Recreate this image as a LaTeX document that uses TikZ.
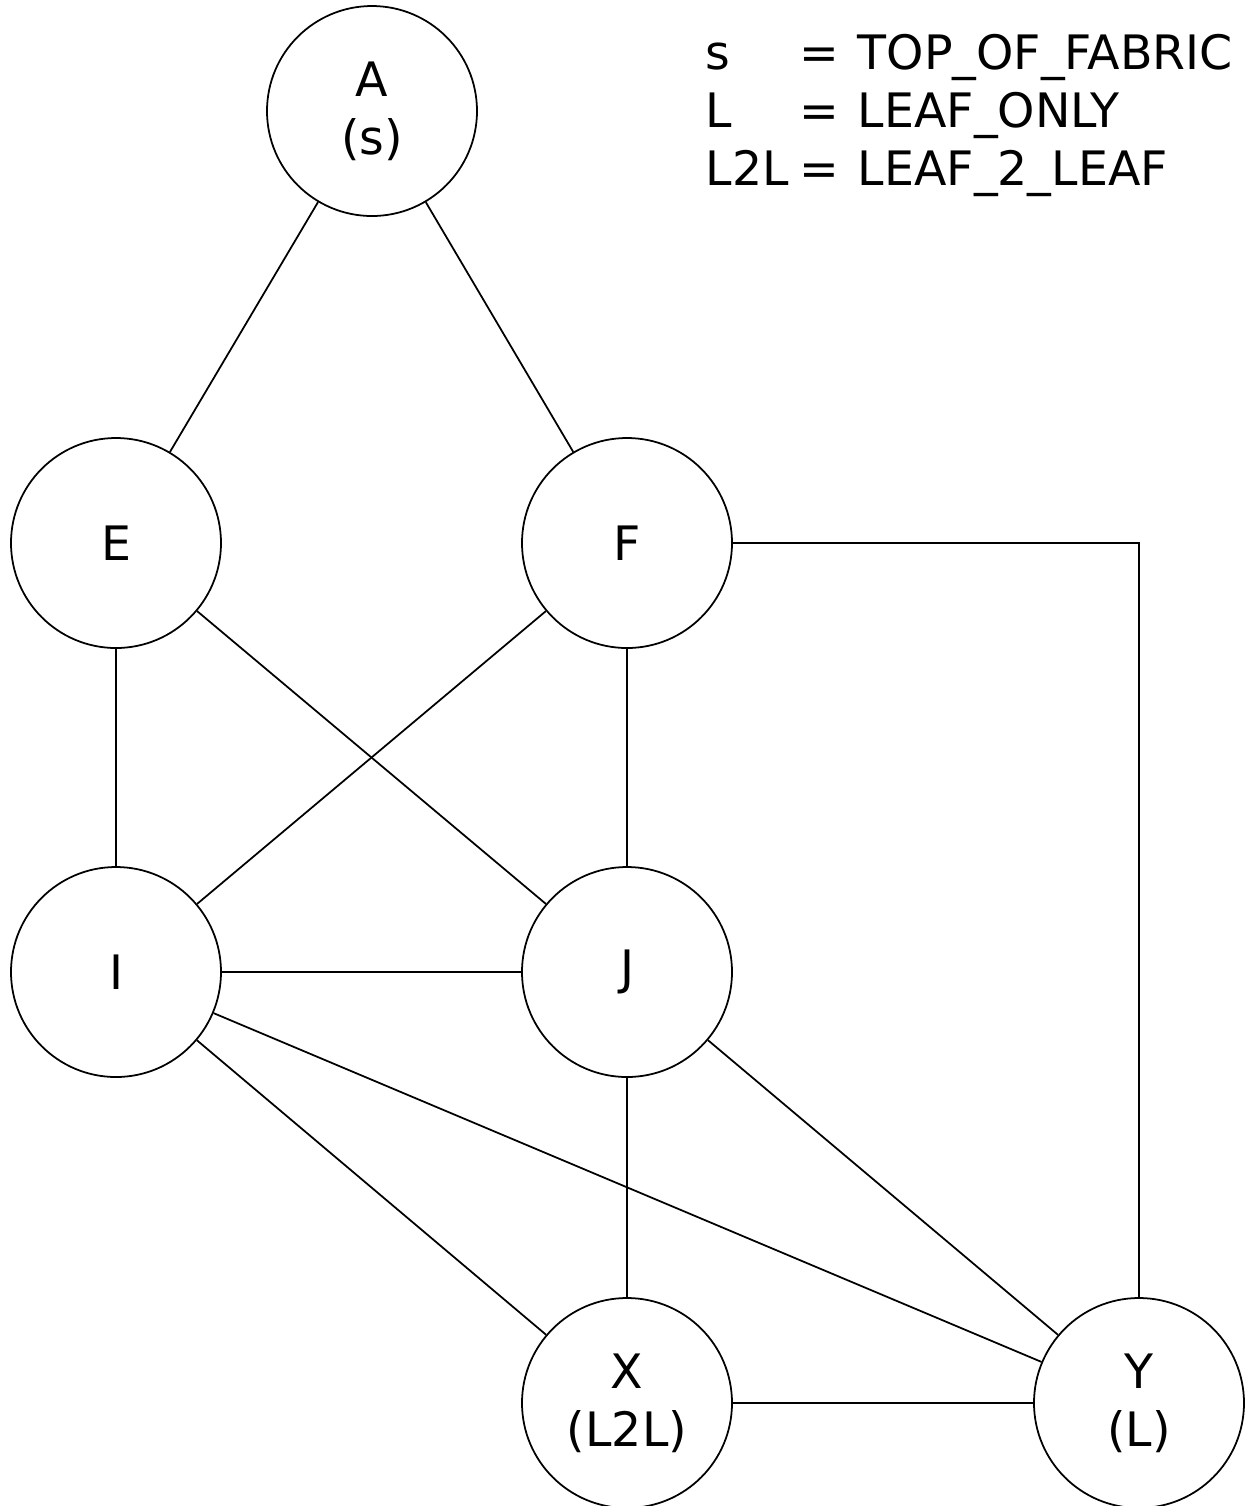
\documentclass[tikz,border=0pt]{standalone}
\usepackage{fontspec}
\setmainfont{DejaVu Sans}
\tikzset{
	fabnode/.style={draw, circle, minimum size=2.1cm, inner sep=0pt, align=center, font=\fontsize{13.5}{16.5}\selectfont},
	legtext/.style={anchor=base west, inner sep=0pt, font=\fontsize{13.5}{16.5}\selectfont}
}
\begin{document}
\begin{tikzpicture}[line width=0.5pt]

	\useasboundingbox (0,0) rectangle (12.46,-15.06);

	\node [fabnode] (A) at (3.72,-1.11) {A\\(s)};
	\node [fabnode] (E) at (1.16,-5.43) {E};
	\node [fabnode] (F) at (6.27,-5.43) {F};
	\node [fabnode] (I) at (1.16,-9.72) {I};
	\node [fabnode] (J) at (6.27,-9.72) {J};
	\node [fabnode] (X) at (6.27,-14.03) {X\\(L2L)};
	\node [fabnode] (Y) at (11.39,-14.03) {Y\\(L)};

	\draw (A)--(E);
	\draw (A)--(F);
	\draw (E)--(I);
	\draw (E)--(J);
	\draw (F)--(I);
	\draw (F)--(J);
	\draw (F.east) -| (Y.north);
	\draw (I)--(J);
	\draw (I)--(X);
	\draw (I)--(Y);
	\draw (J)--(X);
	\draw (J)--(Y);
	\draw (X)--(Y);

	% legend
	\node [legtext] (s) at (7.05,-0.69) {s};
	\node [legtext] (L) at (7.05,-1.27) {L};
	\node [legtext] (LL) at (7.05,-1.85) {L2L};
	\foreach \row/\y in {1/-0.69, 2/-1.27, 3/-1.85}
		\node [legtext] (eq\row) at (7.99,\y) {=};
	\node [legtext] (tof) at (8.57,-0.69) {TOP\_OF\_FABRIC};
	\node [legtext] (lo) at (8.57,-1.27) {LEAF\_ONLY};
	\node [legtext] (ltl) at (8.57,-1.85) {LEAF\_2\_LEAF};

\end{tikzpicture}
\end{document}
